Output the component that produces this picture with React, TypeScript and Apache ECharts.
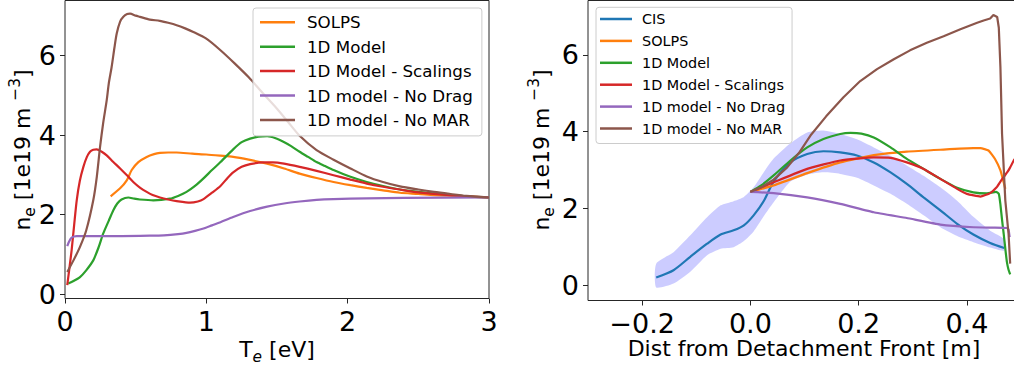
import React, { useEffect, useRef } from "react";
import * as echarts from "echarts";

const FONT = "DejaVu Sans";
const AXIS_COLOR = "#262626";
const COLORS: Record<string, string> = {
  CIS: "#1f77b4",
  SOLPS: "#ff7f0e",
  "1D Model": "#2ca02c",
  "1D Model - Scalings": "#d62728",
  "1D model - No Drag": "#9467bd",
  "1D model - No MAR": "#8c564b",
};

// ---------- Left panel: n_e vs T_e ----------
const leftNames = ["SOLPS", "1D Model", "1D Model - Scalings", "1D model - No Drag", "1D model - No MAR"];
const leftXTicks = [0, 1, 2, 3];
const leftYTicks = [0, 2, 4, 6];

const solpsTeX = [0.323, 0.39, 0.437, 0.472, 0.519, 0.578, 0.63, 0.672, 0.73, 0.79, 0.9, 1.0, 1.1, 1.19, 1.3, 1.43, 1.55, 1.66, 1.78, 1.9, 2.02, 2.135, 2.25, 2.37, 2.5, 2.61, 2.8, 3.0];
const solpsTeY = [2.46, 2.66, 2.86, 3.12, 3.32, 3.45, 3.52, 3.55, 3.56, 3.56, 3.53, 3.51, 3.48, 3.45, 3.38, 3.28, 3.16, 3.03, 2.92, 2.82, 2.74, 2.67, 2.61, 2.55, 2.52, 2.49, 2.46, 2.43];

const model1TeX = [0.023, 0.06, 0.106, 0.15, 0.2, 0.24, 0.27, 0.31, 0.342, 0.37, 0.4, 0.448, 0.49, 0.53, 0.625, 0.743, 0.8, 0.86, 0.92, 0.98, 1.04, 1.1, 1.19, 1.25, 1.31, 1.37, 1.43, 1.49, 1.545, 1.6, 1.66, 1.72, 1.78, 1.84, 1.9, 2.02, 2.135, 2.25, 2.37, 2.5, 2.61, 2.84, 3.0];
const model1TeY = [0.27, 0.33, 0.43, 0.6, 0.85, 1.2, 1.52, 1.85, 2.11, 2.28, 2.38, 2.43, 2.4, 2.38, 2.36, 2.4, 2.47, 2.57, 2.72, 2.91, 3.12, 3.32, 3.64, 3.82, 3.91, 3.96, 3.97, 3.92, 3.83, 3.72, 3.58, 3.45, 3.32, 3.22, 3.12, 2.95, 2.82, 2.72, 2.63, 2.57, 2.53, 2.46, 2.43];

const scalTeX = [0.016, 0.03, 0.047, 0.065, 0.083, 0.105, 0.13, 0.155, 0.177, 0.2, 0.224, 0.26, 0.295, 0.34, 0.39, 0.44, 0.483, 0.53, 0.578, 0.62, 0.672, 0.73, 0.79, 0.885, 0.94, 0.98, 1.04, 1.1, 1.15, 1.19, 1.25, 1.31, 1.4, 1.47, 1.55, 1.66, 1.78, 1.9, 2.02, 2.135, 2.25, 2.37, 2.5, 2.61, 2.84, 3.0];
const scalTeY = [0.23, 0.62, 1.11, 1.75, 2.36, 2.85, 3.2, 3.45, 3.58, 3.63, 3.64, 3.58, 3.49, 3.33, 3.16, 2.98, 2.82, 2.68, 2.57, 2.49, 2.43, 2.38, 2.34, 2.3, 2.33, 2.39, 2.55, 2.72, 2.92, 3.06, 3.2, 3.27, 3.31, 3.31, 3.28, 3.2, 3.1, 2.99, 2.88, 2.78, 2.7, 2.63, 2.56, 2.52, 2.46, 2.43];

const noDragTeX = [0.016, 0.03, 0.047, 0.083, 0.2, 0.4, 0.6, 0.7, 0.8, 0.86, 0.92, 0.98, 1.04, 1.1, 1.19, 1.31, 1.43, 1.55, 1.66, 1.78, 1.9, 2.135, 2.4, 3.0];
const noDragTeY = [1.21, 1.33, 1.42, 1.46, 1.46, 1.46, 1.47, 1.48, 1.51, 1.54, 1.59, 1.65, 1.73, 1.81, 1.94, 2.09, 2.2, 2.28, 2.33, 2.37, 2.39, 2.41, 2.42, 2.43];

const noMarTeX = [0.016, 0.06, 0.106, 0.15, 0.2, 0.225, 0.248, 0.27, 0.295, 0.31, 0.33, 0.35, 0.366, 0.39, 0.413, 0.44, 0.46, 0.5, 0.53, 0.6, 0.67, 0.73, 0.79, 0.85, 0.908, 1.0, 1.1, 1.2, 1.3, 1.4, 1.5, 1.58, 1.66, 1.78, 1.9, 2.02, 2.135, 2.25, 2.37, 2.5, 2.61, 2.72, 2.84, 3.0];
const noMarTeY = [0.56, 0.85, 1.19, 1.6, 2.36, 2.95, 3.7, 4.3, 4.87, 5.3, 5.71, 6.2, 6.55, 6.85, 6.97, 7.04, 7.05, 7.0, 6.97, 6.9, 6.87, 6.82, 6.76, 6.68, 6.59, 6.42, 6.13, 5.8, 5.45, 5.05, 4.66, 4.32, 3.98, 3.62, 3.38, 3.16, 2.96, 2.82, 2.71, 2.63, 2.57, 2.52, 2.47, 2.43];

// ---------- Right panel: n_e vs distance from detachment front ----------
const rightNames = ["CIS", "SOLPS", "1D Model", "1D Model - Scalings", "1D model - No Drag", "1D model - No MAR"];
const rightXTicks = [-0.2, 0, 0.2, 0.4];
const rightYTicks = [0, 2, 4, 6];

const cisX = [-0.174, -0.142, -0.111, -0.08, -0.055, -0.031, -0.012, 0.006, 0.025, 0.043, 0.074, 0.105, 0.135, 0.166, 0.197, 0.228, 0.259, 0.289, 0.32, 0.351, 0.382, 0.412, 0.443, 0.469];
const cisY = [0.2, 0.39, 0.74, 1.08, 1.32, 1.43, 1.56, 1.82, 2.2, 2.7, 3.2, 3.42, 3.49, 3.46, 3.38, 3.2, 2.94, 2.64, 2.29, 1.95, 1.6, 1.32, 1.1, 0.97];
const cisUpper = [0.56, 0.86, 1.3, 1.77, 2.08, 2.19, 2.3, 2.55, 2.95, 3.3, 3.7, 3.98, 4.03, 3.94, 3.8, 3.59, 3.37, 3.12, 2.85, 2.55, 2.2, 1.78, 1.42, 1.2];
const cisLower = [-0.06, 0.04, 0.35, 0.78, 0.95, 0.99, 1.15, 1.4, 1.8, 2.16, 2.7, 2.88, 2.94, 2.9, 2.8, 2.6, 2.38, 2.12, 1.82, 1.51, 1.28, 1.12, 0.98, 0.9];

const solpsDX = [0, 0.043, 0.105, 0.166, 0.228, 0.289, 0.351, 0.412, 0.425, 0.44, 0.452, 0.462, 0.468, 0.471];
const solpsDY = [2.43, 2.6, 2.92, 3.2, 3.39, 3.48, 3.53, 3.57, 3.57, 3.51, 3.29, 2.99, 2.68, 2.51];

const model1DX = [0, 0.02, 0.043, 0.074, 0.105, 0.135, 0.166, 0.185, 0.205, 0.228, 0.259, 0.289, 0.32, 0.351, 0.382, 0.412, 0.437, 0.454, 0.459, 0.462, 0.465, 0.468, 0.471, 0.474, 0.477, 0.48];
const model1DY = [2.43, 2.6, 2.86, 3.25, 3.59, 3.81, 3.94, 3.97, 3.95, 3.85, 3.59, 3.29, 3.03, 2.77, 2.54, 2.42, 2.39, 2.43, 2.38, 2.1, 1.7, 1.34, 0.95, 0.6, 0.4, 0.28];

const scalDX = [0, 0.043, 0.105, 0.166, 0.228, 0.259, 0.289, 0.32, 0.351, 0.382, 0.4, 0.425, 0.443, 0.455, 0.462, 0.468, 0.475, 0.48, 0.488];
const scalDY = [2.43, 2.68, 3.03, 3.25, 3.33, 3.32, 3.2, 3.03, 2.77, 2.51, 2.38, 2.31, 2.4, 2.55, 2.7, 2.82, 2.95, 3.07, 3.29];

const noDragDX = [0, 0.043, 0.105, 0.166, 0.228, 0.289, 0.351, 0.412, 0.45, 0.474, 0.477, 0.479];
const noDragDY = [2.43, 2.4, 2.29, 2.12, 1.9, 1.75, 1.58, 1.51, 1.5, 1.49, 1.45, 1.25];

const noMarDX = [0, 0.02, 0.043, 0.068, 0.09, 0.111, 0.14, 0.172, 0.203, 0.234, 0.265, 0.295, 0.326, 0.357, 0.388, 0.419, 0.431, 0.443, 0.449, 0.456, 0.459, 0.462, 0.465, 0.471, 0.477, 0.48];
const noMarDY = [2.43, 2.55, 2.75, 3.07, 3.45, 3.9, 4.4, 4.9, 5.32, 5.63, 5.89, 6.12, 6.32, 6.49, 6.67, 6.84, 6.9, 6.95, 7.04, 6.99, 6.71, 5.67, 3.94, 2.21, 1.34, 0.56];

const zip = (xs: number[], ys: number[]) => {
  const n = Math.min(xs.length, ys.length);
  const out: number[][] = [];
  for (let i = 0; i < n; i++) out.push([xs[i], ys[i]]);
  return out;
};

const lineSeries = (name: string, xs: number[], ys: number[], idx: number, smooth: number | boolean = 0.25) => ({
  type: "line",
  name,
  xAxisIndex: idx,
  yAxisIndex: idx,
  data: zip(xs, ys),
  showSymbol: false,
  symbol: "none",
  smooth,
  color: COLORS[name],
  lineStyle: { color: COLORS[name], width: 2.2 },
  z: 3,
  silent: true,
});

const tickLabel = (v: number) => String(v);
const rightXLabel = (v: number) => (v < 0 ? "\u2212" + Math.abs(v).toFixed(1) : v.toFixed(1));

const axisCommon = {
  type: "value",
  splitLine: { show: false },
  axisLine: { show: false, onZero: false },
};

const labelCommon = {
  fontSize: 27,
  fontFamily: FONT,
  color: "#000",
  margin: 9,
  hideOverlap: false,
};

const legendCommon = {
  orient: "vertical",
  icon: "rect",
  itemHeight: 2.5,
  backgroundColor: "rgba(255,255,255,0.8)",
  borderColor: "#cccccc",
  borderWidth: 1,
  borderRadius: 3,
  selectedMode: false,
  itemStyle: { borderWidth: 0 },
};

const labelRich = {
  n: { fontSize: 22, fontFamily: FONT, color: "#000", lineHeight: 30, verticalAlign: "middle" },
  s: { fontSize: 15.4, fontFamily: FONT, color: "#000", lineHeight: 15.4, verticalAlign: "bottom" },
  si: { fontSize: 15.4, fontFamily: FONT, fontStyle: "italic", color: "#000", lineHeight: 15.4, verticalAlign: "bottom" },
  p: { fontSize: 15.4, fontFamily: FONT, color: "#000", lineHeight: 22, verticalAlign: "top" },
};

const yLabelText = "{n|n}{s|e}{n| [1e19 m }{p|\u22123}{n|]}";

export default function App() {
  const ref = useRef<HTMLDivElement>(null);

  useEffect(() => {
    if (!ref.current) return;
    const chart = echarts.init(ref.current, null, { renderer: "svg" });

    const option: any = {
      animation: false,
      backgroundColor: "#ffffff",
      grid: [
        { left: 65, right: 525, top: 0.5, bottom: 70.5, show: true, borderColor: AXIS_COLOR, borderWidth: 1, backgroundColor: "transparent", outerBoundsMode: "none", containLabel: false },
        { left: 588, right: -7, top: 0.5, bottom: 68.5, show: true, borderColor: AXIS_COLOR, borderWidth: 1, backgroundColor: "transparent", outerBoundsMode: "none", containLabel: false },
      ],
      xAxis: [
        {
          ...axisCommon,
          gridIndex: 0,
          min: 0,
          max: 3,
          axisTick: { show: true, length: 5, lineStyle: { color: AXIS_COLOR, width: 1 }, customValues: leftXTicks },
          axisLabel: { ...labelCommon, customValues: leftXTicks, formatter: tickLabel },
        },
        {
          ...axisCommon,
          gridIndex: 1,
          min: -0.3,
          max: 0.5,
          axisTick: { show: true, length: 5, lineStyle: { color: AXIS_COLOR, width: 1 }, customValues: rightXTicks },
          axisLabel: { ...labelCommon, customValues: rightXTicks, formatter: rightXLabel },
        },
      ],
      yAxis: [
        {
          ...axisCommon,
          gridIndex: 0,
          min: -0.108,
          max: 7.38,
          axisTick: { show: true, length: 5, lineStyle: { color: AXIS_COLOR, width: 1 }, customValues: leftYTicks },
          axisLabel: { ...labelCommon, customValues: leftYTicks, formatter: tickLabel },
        },
        {
          ...axisCommon,
          gridIndex: 1,
          min: -0.4,
          max: 7.42,
          axisTick: { show: true, length: 5, lineStyle: { color: AXIS_COLOR, width: 1 }, customValues: rightYTicks },
          axisLabel: { ...labelCommon, customValues: rightYTicks, formatter: tickLabel },
        },
      ],
      legend: [
        {
          ...legendCommon,
          data: leftNames,
          left: 253,
          top: 8,
          itemWidth: 35,
          itemGap: 6.4,
          padding: [5.3, 9, 7, 7],
          textStyle: { fontSize: 16.7, fontFamily: FONT, color: "#000", lineHeight: 18, padding: [0, 0, 0, 7] },
        },
        {
          ...legendCommon,
          data: rightNames,
          left: 596,
          top: 7.3,
          itemWidth: 32,
          itemGap: 5.9,
          padding: [3.7, 7, 7, 4],
          textStyle: { fontSize: 14.4, fontFamily: FONT, color: "#000", lineHeight: 16, padding: [0, 0, 0, 5] },
        },
      ],
      graphic: [
        {
          type: "text",
          x: 22,
          y: 150,
          rotation: Math.PI / 2,
          silent: true,
          style: { text: yLabelText, rich: labelRich, align: "center", verticalAlign: "middle" },
        },
        {
          type: "text",
          x: 541,
          y: 150,
          rotation: Math.PI / 2,
          silent: true,
          style: { text: yLabelText, rich: labelRich, align: "center", verticalAlign: "middle" },
        },
        {
          type: "text",
          x: 277,
          y: 349,
          silent: true,
          style: { text: "{n|T}{si|e}{n| [eV]}", rich: labelRich, align: "center", verticalAlign: "middle" },
        },
        {
          type: "text",
          x: 804,
          y: 348.5,
          silent: true,
          style: { text: "Dist from Detachment Front [m]", fontSize: 22, fontFamily: FONT, fill: "#000", align: "center", verticalAlign: "middle" },
        },
      ],
      series: [
        lineSeries("SOLPS", solpsTeX, solpsTeY, 0),
        lineSeries("1D Model", model1TeX, model1TeY, 0),
        lineSeries("1D Model - Scalings", scalTeX, scalTeY, 0),
        lineSeries("1D model - No Drag", noDragTeX, noDragTeY, 0),
        lineSeries("1D model - No MAR", noMarTeX, noMarTeY, 0),
        {
          type: "custom",
          name: "CIS uncertainty",
          xAxisIndex: 1,
          yAxisIndex: 1,
          z: 1,
          silent: true,
          data: cisX.map((x, i) => [x, cisLower[i], cisUpper[i]]),
          encode: { x: 0, y: [1, 2] },
          renderItem: (params: any, api: any) => {
            if (params.dataIndex !== 0) return null;
            const pts: number[][] = [];
            for (let i = 0; i < cisX.length; i++) pts.push(api.coord([cisX[i], cisUpper[i]]));
            for (let i = cisX.length - 1; i >= 0; i--) pts.push(api.coord([cisX[i], cisLower[i]]));
            return {
              type: "polygon",
              shape: { points: pts, smooth: 0.2 },
              style: { fill: "rgba(0,0,255,0.2)", stroke: "none" },
              silent: true,
            };
          },
        },
        lineSeries("CIS", cisX, cisY, 1),
        lineSeries("SOLPS", solpsDX, solpsDY, 1, 0.15),
        lineSeries("1D Model", model1DX, model1DY, 1, 0.15),
        lineSeries("1D Model - Scalings", scalDX, scalDY, 1, 0.15),
        lineSeries("1D model - No Drag", noDragDX, noDragDY, 1, 0.1),
        lineSeries("1D model - No MAR", noMarDX, noMarDY, 1, false),
      ],
    };

    chart.setOption(option);
    return () => chart.dispose();
  }, []);

  return (
    <div
      ref={ref}
      style={{ position: "fixed", left: 0, top: 0, width: 1014, height: 369, background: "#fff" }}
    />
  );
}
